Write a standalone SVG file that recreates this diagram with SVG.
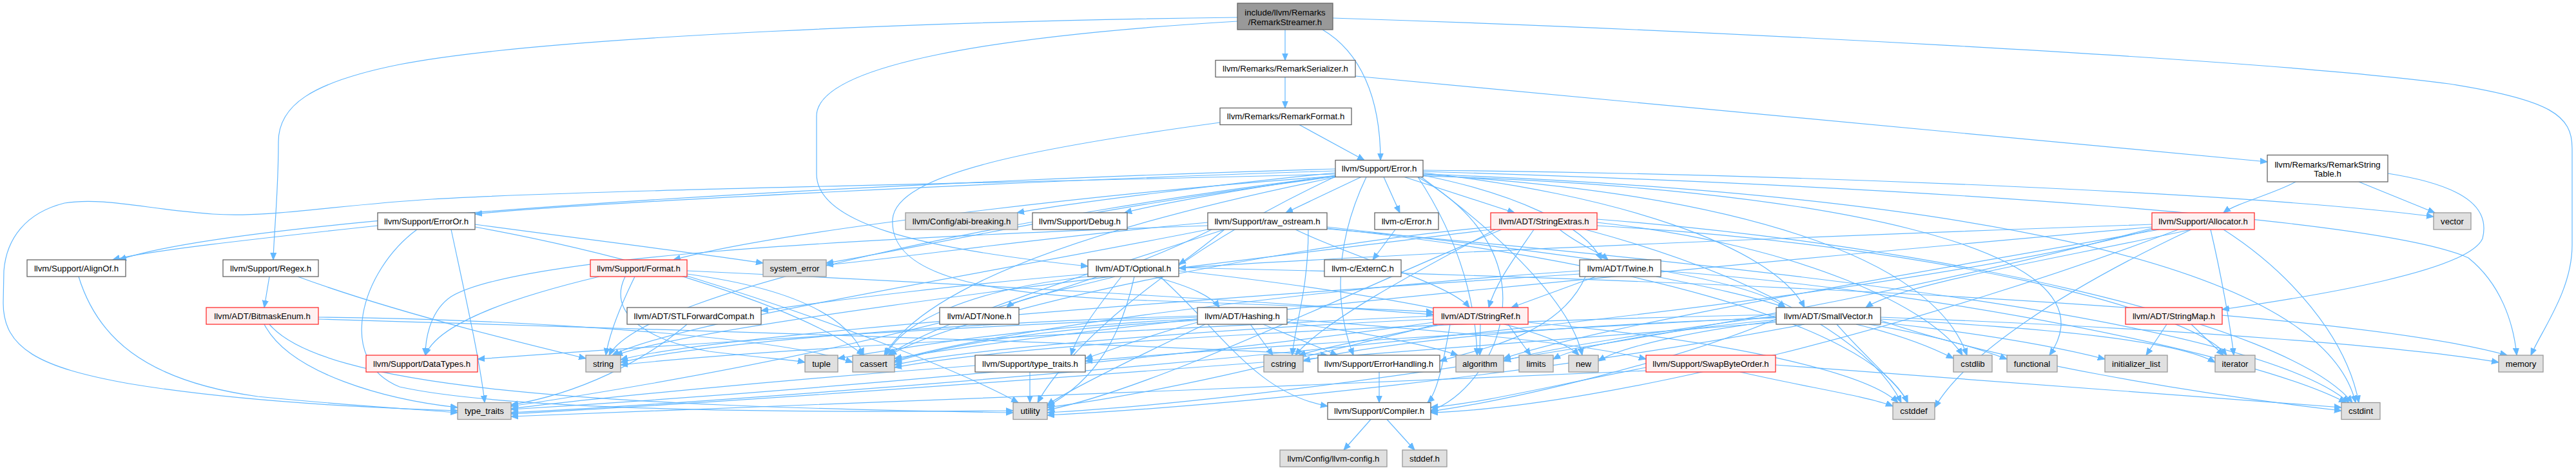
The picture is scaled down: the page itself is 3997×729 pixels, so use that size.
<svg xmlns="http://www.w3.org/2000/svg" width="3997" height="729" viewBox="0 0 3997 729">
<style>
.node rect{stroke-width:1.3}
.n rect{fill:#ffffff;stroke:#666666}
.g rect{fill:#e0e0e0;stroke:#999999}
.r rect{fill:#fff0f0;stroke:#ff3030}
.root rect{fill:#999999;stroke:#666666}
text{font-family:"Liberation Sans",Arial,Helvetica,sans-serif;font-size:13.2px;fill:#000000;text-anchor:middle}
#edges path{fill:none;stroke:#63b8ff;stroke-width:1.2;marker-end:url(#a)}
</style>
<defs>
<marker id="a" markerUnits="userSpaceOnUse" markerWidth="12" markerHeight="10" refX="11" refY="5" orient="auto">
<path d="M0,0.5 L11,5 L0,9.5 z" fill="#63b8ff" stroke="#63b8ff" stroke-width="1"/>
</marker>
</defs>
<rect x="0" y="0" width="3997" height="729" fill="#ffffff"/>
<g id="edges">
<path d="M1994,46 L1994,93.5"/>
<path d="M2052,46 C2110,80 2142,150 2142,248.5"/>
<path d="M1920,27 C1500,32 850,55 620,100 C480,128 432,165 432,220 C432,300 425,360 424,403"/>
<path d="M1920,33 C1550,55 1267,100 1267,180 L1267,270 C1267,345 1420,385 1688,413"/>
<path d="M2068,28 C2600,45 3500,90 3800,130 C3960,155 3991,180 3991,230 L3991,380 C3991,450 3945,510 3927,551"/>
<path d="M1994,119.5 L1994,167.5"/>
<path d="M2103,118 L3518,251"/>
<path d="M2016,193.5 L2117,248.5"/>
<path d="M1893,190 C1600,230 1390,270 1385,340 C1380,420 1500,455 1750,465 C1950,472 2120,478 2224,484"/>
<path d="M3562,282 C3530,300 3470,315 3450,330"/>
<path d="M3660,282 L3778,330"/>
<path d="M3705,269 C3840,290 3862,330 3852,370 C3830,420 3600,458 3448,480"/>
<path d="M2147,274.5 L2172,330"/>
<path d="M2179,274.5 L2350,330"/>
<path d="M2112,274.5 L1995,330"/>
<path d="M2072,272 C1950,290 1800,315 1745,330"/>
<path d="M2072,268 C1900,285 1660,315 1578,330"/>
<path d="M2072,265 C1600,280 900,315 737,332"/>
<path d="M2072,262 C1500,278 400,330 185,403"/>
<path d="M2072,270 C1500,285 900,295 670,309 C520,318 420,338 330,332 C230,325 160,305 100,315 C40,330 10,370 6,420 L5,470 C5,540 60,570 200,595 C350,620 550,632 710,637"/>
<path d="M2072,273 C1700,300 1200,360 1045,403"/>
<path d="M2072,274 C1700,320 1400,390 1282,408"/>
<path d="M2200,274.5 C2420,400 2320,600 2220,637"/>
<path d="M2120,274.5 C2060,400 2080,500 2100,551"/>
<path d="M2208,268 C2500,300 2750,380 2800,477"/>
<path d="M2208,272 C2350,300 2460,350 2485,403"/>
<path d="M2200,274.5 C2270,380 2290,480 2292,551"/>
<path d="M2072,275 C1800,330 1450,420 1372,551"/>
<path d="M2208,270 C3000,300 3600,400 3655,624.5"/>
<path d="M2208,271 C2700,300 3000,400 3052,551"/>
<path d="M2208,273 C2800,290 3300,380 3180,551"/>
<path d="M2208,266 C3000,290 3700,340 3830,400 C3880,440 3900,500 3905,551"/>
<path d="M2205,274.5 C2350,380 2440,480 2455,551"/>
<path d="M2072,273 C1600,330 1000,450 945,551"/>
<path d="M2072,274 C1800,400 1650,550 1610,624.5"/>
<path d="M2208,264 C2800,270 3500,300 3776,336"/>
<path d="M2165,356 L2130,403"/>
<path d="M586,350 C400,370 220,390 175,403"/>
<path d="M737,348 C900,370 1100,395 1184,408"/>
<path d="M647,356 C560,420 520,560 620,600 C800,640 1300,640 1572,637"/>
<path d="M700,356 C720,450 745,560 752,624.5"/>
<path d="M737,352 C1000,400 1250,480 1340,551"/>
<path d="M2059,352 C2300,380 2700,420 2770,477"/>
<path d="M2010,356 C2100,400 2250,440 2280,477"/>
<path d="M1900,356 C1870,380 1845,400 1829,410"/>
<path d="M1874,350 C1300,370 800,400 700,460 C670,480 660,520 660,551"/>
<path d="M1900,356 C1700,420 1450,500 1378,551"/>
<path d="M2059,354 C2500,400 2900,500 2960,624.5"/>
<path d="M2059,355 C2800,420 3500,500 3645,624.5"/>
<path d="M2030,356 C2030,450 2010,500 2005,551"/>
<path d="M1874,356 C1500,430 1050,500 950,551"/>
<path d="M1874,345 C1600,370 1400,400 1282,411"/>
<path d="M1880,356 C1600,500 1000,600 793,630"/>
<path d="M2380,356 C2350,400 2320,440 2310,477"/>
<path d="M2420,356 C2450,380 2480,390 2495,403"/>
<path d="M2313,352 C2000,380 1500,480 1380,551"/>
<path d="M2460,356 C2700,420 2900,520 2950,624.5"/>
<path d="M2478,340 C3000,380 3550,500 3650,624.5"/>
<path d="M2478,345 C2800,380 3000,480 3045,551"/>
<path d="M2320,356 C2200,420 2050,500 2010,551"/>
<path d="M2478,350 C3000,380 3400,480 3455,551"/>
<path d="M2313,356 C1800,420 1100,500 955,551"/>
<path d="M2330,356 C2100,450 1800,600 1625,636"/>
<path d="M3339,348 C3000,360 2200,390 1829,416"/>
<path d="M3400,356 C3200,400 2950,440 2895,477"/>
<path d="M3380,356 C3000,500 2500,630 2220,640"/>
<path d="M3350,356 C3000,420 2500,500 2333,556"/>
<path d="M3339,352 C2800,400 1700,500 1388,556"/>
<path d="M3400,356 C3200,450 3050,550 3002,632"/>
<path d="M3450,356 C3550,420 3640,520 3660,624.5"/>
<path d="M3430,356 C3445,420 3460,500 3466,551"/>
<path d="M3339,356 C2800,500 1200,620 793,640"/>
<path d="M3339,354 C2800,500 2000,620 1625,640"/>
<path d="M1730,429 C1650,450 1580,462 1562,477"/>
<path d="M1790,429 C1850,445 1880,460 1892,477"/>
<path d="M1688,425 C1500,440 1300,465 1181,482"/>
<path d="M1800,429 C1900,520 1950,610 2060,630"/>
<path d="M1740,429 C1700,480 1670,520 1662,551"/>
<path d="M1688,429 C1500,450 1400,500 1375,551"/>
<path d="M1829,415 C2500,430 3600,470 3890,551"/>
<path d="M1829,420 C2100,450 2400,500 2450,551"/>
<path d="M1760,429 C1740,520 1700,590 1625,630"/>
<path d="M2476,429 L2345,477"/>
<path d="M2570,429 C2650,445 2720,460 2770,477"/>
<path d="M2460,429 C2420,520 2300,540 2234,560"/>
<path d="M2451,420 C2000,450 1500,520 1388,560"/>
<path d="M2577,420 C3000,450 3500,550 3640,624.5"/>
<path d="M2451,425 C1900,460 1100,520 963,558"/>
<path d="M122,429 C150,520 220,590 400,615 C550,630 650,635 710,640"/>
<path d="M418,429 L410,477"/>
<path d="M462,429 C600,480 800,530 909,556"/>
<path d="M494,492 C800,495 1200,520 1323,562"/>
<path d="M410,503 C450,580 600,620 710,632"/>
<path d="M418,503 C500,600 900,630 1572,640"/>
<path d="M494,495 C1000,510 1800,535 2060,551"/>
<path d="M930,429 C800,460 680,500 660,551"/>
<path d="M1066,420 C1500,440 2000,470 2224,488"/>
<path d="M1066,425 C1250,450 1320,500 1340,551"/>
<path d="M985,429 C960,480 945,520 940,551"/>
<path d="M970,429 C945,480 990,525 1100,545 C1180,555 1230,558 1249,562"/>
<path d="M1066,428 C1300,500 1500,580 1580,624.5"/>
<path d="M1066,503 C1000,560 900,610 793,628"/>
<path d="M1858,492 C1400,510 900,545 741,557"/>
<path d="M1960,503 C2000,520 2050,540 2075,551"/>
<path d="M1997,495 C2200,510 2450,530 2554,557"/>
<path d="M1858,500 C1780,520 1720,545 1684,556"/>
<path d="M1997,500 C2150,520 2230,540 2262,551"/>
<path d="M1858,497 C1600,510 1450,540 1388,562"/>
<path d="M1940,503 L1975,551"/>
<path d="M1858,490 C1500,500 1100,530 963,562"/>
<path d="M1858,495 C1600,505 1400,540 1300,556"/>
<path d="M1870,503 C1750,560 1650,610 1625,628"/>
<path d="M2250,503 C2240,560 2230,610 2215,624.5"/>
<path d="M2297,503 L2296,551"/>
<path d="M2224,495 C1900,510 1500,540 1388,566"/>
<path d="M2371,500 C2700,530 2900,580 2945,624.5"/>
<path d="M2240,503 C2150,520 2050,540 2015,551"/>
<path d="M2340,503 L2375,551"/>
<path d="M2224,490 C1800,510 1200,540 963,566"/>
<path d="M2224,500 C1800,560 1200,610 793,635"/>
<path d="M2230,503 C2000,560 1800,610 1625,632"/>
<path d="M2756,495 C2600,560 2350,620 2220,638"/>
<path d="M2756,492 C2400,510 1900,540 1684,560"/>
<path d="M2756,490 C2600,510 2400,540 2333,560"/>
<path d="M2756,488 C2200,500 1600,530 1388,570"/>
<path d="M2850,503 C2900,560 2950,600 2960,624.5"/>
<path d="M2918,497 C3100,560 3400,610 3633,637"/>
<path d="M2880,503 C2950,520 3000,540 3031,556"/>
<path d="M2756,493 C2400,505 2150,530 2022,560"/>
<path d="M2900,503 C3000,520 3070,540 3114,557"/>
<path d="M2918,500 C3100,520 3200,540 3266,557"/>
<path d="M2918,495 C3200,510 3380,530 3437,562"/>
<path d="M2756,496 C2600,510 2450,535 2410,557"/>
<path d="M2918,492 C3400,510 3750,540 3877,562"/>
<path d="M2756,498 C2650,510 2520,535 2480,560"/>
<path d="M2756,500 C2000,560 1200,620 793,642"/>
<path d="M2800,503 C2400,580 1900,630 1625,644"/>
<path d="M3362,503 L3330,551"/>
<path d="M3400,503 L3450,551"/>
<path d="M1598,577 L1598,624.5"/>
<path d="M1513,567 C1200,590 900,620 793,634"/>
<path d="M2140,577 L2140,624.5"/>
<path d="M2127,650.5 L2085,698"/>
<path d="M2152,650.5 L2195,698"/>
<path d="M2700,577 C2800,600 2900,615 2937,630"/>
<path d="M2755,566 C3100,590 3400,615 3633,632"/>
<path d="M2554,570 C2400,600 2300,625 2220,632"/>
<path d="M2554,575 C2000,600 1200,630 793,646"/>
</g>
<g id="node1" class="node root"><rect x="1920" y="5" width="148" height="41"/><text x="1994" y="23.5">include/llvm/Remarks</text><text x="1994" y="38.5">/RemarkStreamer.h</text></g>
<g id="node2" class="node n"><rect x="1886" y="93.5" width="217" height="26"/><text x="1994.5" y="111.3">llvm/Remarks/RemarkSerializer.h</text></g>
<g id="node3" class="node n"><rect x="1893" y="167.5" width="204" height="26"/><text x="1995" y="185.3">llvm/Remarks/RemarkFormat.h</text></g>
<g id="node4" class="node n"><rect x="2072" y="248.5" width="136" height="26"/><text x="2140" y="266.3">llvm/Support/Error.h</text></g>
<g id="node5" class="node n"><rect x="3518" y="240.5" width="187" height="41.5"/><text x="3611.5" y="259.5">llvm/Remarks/RemarkString</text><text x="3611.5" y="274">Table.h</text></g>
<g id="node6" class="node n"><rect x="586" y="330" width="151" height="26"/><text x="661.5" y="347.8">llvm/Support/ErrorOr.h</text></g>
<g id="node7" class="node g"><rect x="1405" y="330" width="174" height="26"/><text x="1492" y="347.8">llvm/Config/abi-breaking.h</text></g>
<g id="node8" class="node n"><rect x="1602" y="330" width="147" height="26"/><text x="1675.5" y="347.8">llvm/Support/Debug.h</text></g>
<g id="node9" class="node n"><rect x="1874" y="330" width="185" height="26"/><text x="1966.5" y="347.8">llvm/Support/raw_ostream.h</text></g>
<g id="node10" class="node n"><rect x="2133" y="330" width="99" height="26"/><text x="2182.5" y="347.8">llvm-c/Error.h</text></g>
<g id="node11" class="node r"><rect x="2313" y="330" width="165" height="26"/><text x="2395.5" y="347.8">llvm/ADT/StringExtras.h</text></g>
<g id="node12" class="node r"><rect x="3339" y="330" width="159" height="26"/><text x="3418.5" y="347.8">llvm/Support/Allocator.h</text></g>
<g id="node13" class="node g"><rect x="3776" y="330" width="58" height="26"/><text x="3805" y="347.8">vector</text></g>
<g id="node14" class="node n"><rect x="42" y="403" width="153" height="26"/><text x="118.5" y="420.8">llvm/Support/AlignOf.h</text></g>
<g id="node15" class="node n"><rect x="346" y="403" width="148" height="26"/><text x="420" y="420.8">llvm/Support/Regex.h</text></g>
<g id="node16" class="node r"><rect x="916" y="403" width="150" height="26"/><text x="991" y="420.8">llvm/Support/Format.h</text></g>
<g id="node17" class="node g"><rect x="1184" y="403" width="98" height="26"/><text x="1233" y="420.8">system_error</text></g>
<g id="node18" class="node n"><rect x="1688" y="403" width="141" height="26"/><text x="1758.5" y="420.8">llvm/ADT/Optional.h</text></g>
<g id="node19" class="node n"><rect x="2055" y="403" width="119" height="26"/><text x="2114.5" y="420.8">llvm-c/ExternC.h</text></g>
<g id="node20" class="node n"><rect x="2451" y="403" width="126" height="26"/><text x="2514" y="420.8">llvm/ADT/Twine.h</text></g>
<g id="node21" class="node r"><rect x="320" y="477" width="174" height="26"/><text x="407" y="494.8">llvm/ADT/BitmaskEnum.h</text></g>
<g id="node22" class="node n"><rect x="973" y="477" width="208" height="26"/><text x="1077" y="494.8">llvm/ADT/STLForwardCompat.h</text></g>
<g id="node23" class="node n"><rect x="1458" y="477" width="123" height="26"/><text x="1519.5" y="494.8">llvm/ADT/None.h</text></g>
<g id="node24" class="node n"><rect x="1858" y="477" width="139" height="26"/><text x="1927.5" y="494.8">llvm/ADT/Hashing.h</text></g>
<g id="node25" class="node r"><rect x="2224" y="477" width="147" height="26"/><text x="2297.5" y="494.8">llvm/ADT/StringRef.h</text></g>
<g id="node26" class="node n"><rect x="2756" y="477" width="162" height="26"/><text x="2837" y="494.8">llvm/ADT/SmallVector.h</text></g>
<g id="node27" class="node r"><rect x="3298" y="477" width="150" height="26"/><text x="3373" y="494.8">llvm/ADT/StringMap.h</text></g>
<g id="node28" class="node r"><rect x="568" y="551" width="173" height="26"/><text x="654.5" y="568.8">llvm/Support/DataTypes.h</text></g>
<g id="node29" class="node g"><rect x="909" y="551" width="54" height="26"/><text x="936" y="568.8">string</text></g>
<g id="node30" class="node g"><rect x="1249" y="551" width="51" height="26"/><text x="1274.5" y="568.8">tuple</text></g>
<g id="node31" class="node g"><rect x="1323" y="551" width="65" height="26"/><text x="1355.5" y="568.8">cassert</text></g>
<g id="node32" class="node n"><rect x="1513" y="551" width="171" height="26"/><text x="1598.5" y="568.8">llvm/Support/type_traits.h</text></g>
<g id="node33" class="node g"><rect x="1961" y="551" width="61" height="26"/><text x="1991.5" y="568.8">cstring</text></g>
<g id="node34" class="node n"><rect x="2045" y="551" width="189" height="26"/><text x="2139.5" y="568.8">llvm/Support/ErrorHandling.h</text></g>
<g id="node35" class="node g"><rect x="2259" y="551" width="74" height="26"/><text x="2296" y="568.8">algorithm</text></g>
<g id="node36" class="node g"><rect x="2357" y="551" width="53" height="26"/><text x="2383.5" y="568.8">limits</text></g>
<g id="node37" class="node g"><rect x="2434" y="551" width="46" height="26"/><text x="2457" y="568.8">new</text></g>
<g id="node38" class="node r"><rect x="2554" y="551" width="201" height="26"/><text x="2654.5" y="568.8">llvm/Support/SwapByteOrder.h</text></g>
<g id="node39" class="node g"><rect x="3031" y="551" width="60" height="26"/><text x="3061" y="568.8">cstdlib</text></g>
<g id="node40" class="node g"><rect x="3114" y="551" width="78" height="26"/><text x="3153" y="568.8">functional</text></g>
<g id="node41" class="node g"><rect x="3266" y="551" width="97" height="26"/><text x="3314.5" y="568.8">initializer_list</text></g>
<g id="node42" class="node g"><rect x="3437" y="551" width="62" height="26"/><text x="3468" y="568.8">iterator</text></g>
<g id="node43" class="node g"><rect x="3877" y="551" width="69" height="26"/><text x="3911.5" y="568.8">memory</text></g>
<g id="node44" class="node g"><rect x="710" y="624.5" width="83" height="26"/><text x="751.5" y="642.3">type_traits</text></g>
<g id="node45" class="node g"><rect x="1572" y="624.5" width="53" height="26"/><text x="1598.5" y="642.3">utility</text></g>
<g id="node46" class="node n"><rect x="2060" y="624.5" width="160" height="26"/><text x="2140" y="642.3">llvm/Support/Compiler.h</text></g>
<g id="node47" class="node g"><rect x="2937" y="624.5" width="65" height="26"/><text x="2969.5" y="642.3">cstddef</text></g>
<g id="node48" class="node g"><rect x="3633" y="624.5" width="60" height="26"/><text x="3663" y="642.3">cstdint</text></g>
<g id="node49" class="node g"><rect x="1986" y="698" width="166" height="26"/><text x="2069" y="715.8">llvm/Config/llvm-config.h</text></g>
<g id="node50" class="node g"><rect x="2176" y="698" width="69" height="26"/><text x="2210.5" y="715.8">stddef.h</text></g>
</svg>
